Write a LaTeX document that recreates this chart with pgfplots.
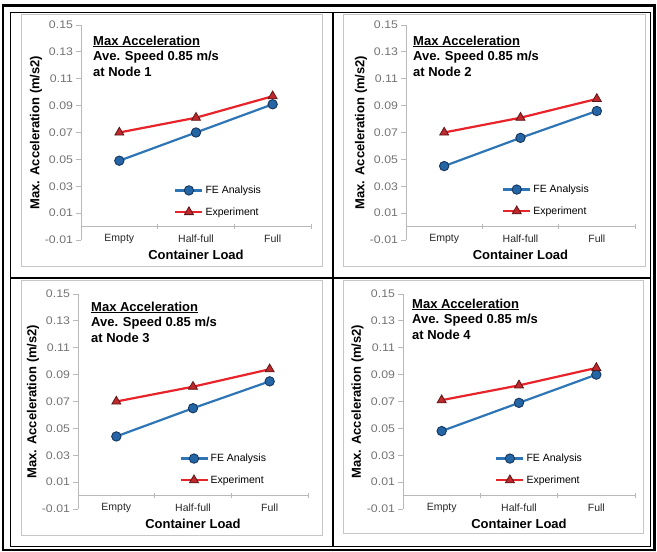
\documentclass[border=0pt]{standalone}
\usepackage{fontspec}
\setmainfont{Liberation Sans}
\usepackage{pgfplots}
\pgfplotsset{compat=1.18}
\definecolor{feblue}{HTML}{2E75B6}
\definecolor{femark}{HTML}{2465A6}
\definecolor{feedge}{HTML}{18365C}
\definecolor{exred}{HTML}{E8232A}
\definecolor{exmark}{HTML}{C0282D}
\definecolor{exedge}{HTML}{5A1818}
\pgfplotsset{
  panel/.style={
    scale only axis, width=230pt, height=215pt,
    xmin=0.5, xmax=3.5, ymin=-0.01, ymax=0.15,
    axis x line=middle, axis y line=left,
    x axis line style={-, draw=gray!55, line width=0.8pt},
    y axis line style={-, draw=gray!55, line width=0.8pt},
    xtick={1,2,3}, xticklabels={Empty,Half-full,Full},
    minor xtick={1.5,2.5,3.5},
    ytick={-0.01,0.01,0.03,0.05,0.07,0.09,0.11,0.13,0.15},
    yticklabels={-0.01,0.01,0.03,0.05,0.07,0.09,0.11,0.13,0.15},
    ytick align=outside,
    major tick length=5pt, minor tick length=5pt,
    tick style={draw=gray!55, line width=0.8pt},
    every major x tick/.append style={draw=none},
    yticklabel style={font=\fontsize{11}{12}\selectfont, text=black!55, xscale=1.12, inner sep=2.5pt},
    xticklabel style={font=\fontsize{10.5}{12}\selectfont, text=black!85, yshift=-2pt},
    xlabel={Container Load}, ylabel={Max. Acceleration (m/s2)},
    every axis x label/.style={at={(axis description cs:0.5,-0.07)}, anchor=center},
    every axis y label/.style={at={(axis description cs:-0.196,0.5)}, rotate=90, anchor=center},
    label style={font=\bfseries\fontsize{13}{15}\selectfont},
    clip=false,
    legend style={draw=none, fill=none, font=\fontsize{10.5}{12}\selectfont, row sep=8.5pt, inner sep=0pt, anchor=north west},
    legend cell align=left,
    legend image code/.code={\draw[mark repeat=2,mark phase=2] plot coordinates {(0pt,0pt)(13.5pt,0pt)(27pt,0pt)};},
  },
  fe/.style={color=feblue, line width=2.2pt, mark=*, mark size=4.7pt, mark options={fill=femark, draw=feedge, line width=0.9pt}},
  ex/.style={color=exred, line width=2.2pt, mark=triangle*, mark size=5.2pt, mark options={fill=exmark, draw=exedge, line width=0.8pt}},
}
\tikzset{notestyle/.style={anchor=north west, align=left, inner sep=0pt, font=\bfseries\fontsize{13}{15.5}\selectfont}}
\begin{document}
\begin{tikzpicture}
\useasboundingbox (0pt,0pt) rectangle (657pt,552pt);
% frames
\draw[line width=2.5pt] (3pt,546.5pt) rectangle (654.5pt,2pt);
\draw[line width=0.8pt] (10pt,540pt) rectangle (650pt,6pt);
\draw[line width=1.2pt] (333pt,540pt) -- (333pt,6pt);
\draw[line width=1.2pt] (10pt,274pt) -- (650pt,274pt);
\draw[gray!45, line width=0.7pt] (21pt,538pt) rectangle (322pt,286pt);
\draw[gray!45, line width=0.7pt] (343pt,538pt) rectangle (645pt,286pt);
\draw[gray!45, line width=0.7pt] (21pt,272pt) rectangle (322pt,17pt);
\draw[gray!45, line width=0.7pt] (343pt,272pt) rectangle (643pt,19pt);

% Panel 1
\begin{axis}[panel, at={(81pt,312pt)}, anchor=south west, width=230pt,
  legend style={at={(0.405,0.262)}}]
\addplot[fe] coordinates {(1,0.049) (2,0.070) (3,0.091)};
\addplot[ex] coordinates {(1,0.070) (2,0.081) (3,0.097)};
\legend{FE Analysis, Experiment}
\end{axis}
% Panel 2
\begin{axis}[panel, at={(406pt,312pt)}, anchor=south west, width=229pt,
  legend style={at={(0.419,0.266)}}]
\addplot[fe] coordinates {(1,0.045) (2,0.066) (3,0.086)};
\addplot[ex] coordinates {(1,0.070) (2,0.081) (3,0.095)};
\legend{FE Analysis, Experiment}
\end{axis}
% Panel 3
\begin{axis}[panel, at={(78pt,43pt)}, anchor=south west, width=230pt,
  legend style={at={(0.440,0.266)}}]
\addplot[fe] coordinates {(1,0.044) (2,0.065) (3,0.085)};
\addplot[ex] coordinates {(1,0.070) (2,0.081) (3,0.094)};
\legend{FE Analysis, Experiment}
\end{axis}
% Panel 4
\begin{axis}[panel, at={(403pt,43pt)}, anchor=south west, width=232pt,
  legend style={at={(0.397,0.266)}}]
\addplot[fe] coordinates {(1,0.048) (2,0.069) (3,0.090)};
\addplot[ex] coordinates {(1,0.071) (2,0.082) (3,0.095)};
\legend{FE Analysis, Experiment}
\end{axis}

\node[notestyle] at (93pt,516.5pt) {\underline{Max Acceleration}\\Ave. Speed 0.85 m/s\\at Node 1};
\node[notestyle] at (413pt,516.5pt) {\underline{Max Acceleration}\\Ave. Speed 0.85 m/s\\at Node 2};
\node[notestyle] at (91pt,250.5pt) {\underline{Max Acceleration}\\Ave. Speed 0.85 m/s\\at Node 3};
\node[notestyle] at (412pt,253.5pt) {\underline{Max Acceleration}\\Ave. Speed 0.85 m/s\\at Node 4};
\end{tikzpicture}
\end{document}
